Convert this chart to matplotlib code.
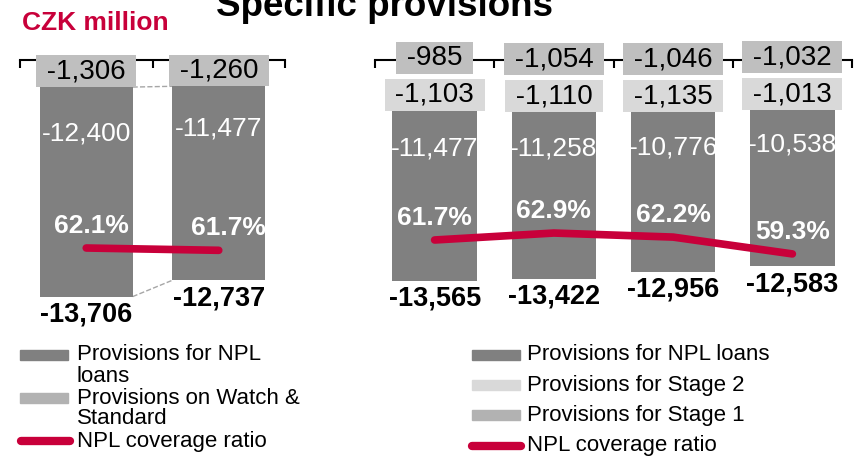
import numpy as np
import matplotlib.pyplot as plt
from matplotlib.patches import Rectangle
from matplotlib.lines import Line2D

plt.rcParams['font.family'] = ['Liberation Sans', 'DejaVu Sans']

# left panel: two periods
left_npl = [-12400, -11477]
left_watch = [-1306, -1260]
left_total = [-13706, -12737]
left_cov = [62.1, 61.7]

# right panel: four quarters
right_npl = [-11477, -11258, -10776, -10538]
right_stage2 = [-1103, -1110, -1135, -1013]
right_stage1 = [-985, -1054, -1046, -1032]
right_total = [-13565, -13422, -12956, -12583]
right_cov = [61.7, 62.9, 62.2, 59.3]

DARK = '#808080'
STAGE1 = '#bfbfbf'
STAGE2 = '#d9d9d9'
RED = '#c8003a'

W, H = 863, 459
fig = plt.figure(figsize=(W / 100, H / 100), dpi=100)


def fx(px):
    return px / W


def fy(py):
    return 1 - py / H


def fmt(v):
    return f"{v:,.0f}"


def setup_axis(ax, n):
    ax.set_xlim(-0.5, n - 0.5)
    for s in ['left', 'right', 'bottom']:
        ax.spines[s].set_visible(False)
    ax.spines['top'].set_linewidth(1.5)
    ax.set_xticks(np.arange(n + 1) - 0.5)
    ax.set_yticks([])
    ax.tick_params(axis='x', top=True, bottom=False, direction='in', length=6,
                   width=1.5, labeltop=False, labelbottom=False)


def box_label(ax, x, y, text, color, dy):
    ax.annotate(f" {text} ", (x, y), xytext=(0, dy), textcoords='offset pixels',
                ha='center', va='bottom', fontsize=20, color='black',
                bbox=dict(boxstyle='square,pad=0.1', fc=color, ec='none'),
                annotation_clip=False)


def panel(rect, ylim, cov_lim, npl, smalls, total, cov, width, pct_dx):
    # smalls: list of (values, colour), stacked from zero downwards
    ax = fig.add_axes(rect)
    n = len(npl)
    x = np.arange(n)
    setup_axis(ax, n)
    ax.set_ylim(*ylim)

    bottom = np.zeros(n)
    for vals, col in smalls:
        ax.bar(x, vals, width, bottom=bottom, color=col, zorder=2)
        bottom = bottom + np.array(vals)
    npl_top = bottom.copy()
    ax.bar(x, npl, width, bottom=npl_top, color=DARK, zorder=2)

    # labels of small segments stacked above NPL top
    for k, (vals, col) in enumerate(reversed(smalls)):
        for i in range(n):
            box_label(ax, x[i], npl_top[i], fmt(vals[i]), col, 3 + 37 * k)

    for i in range(n):
        ax.text(x[i], npl_top[i] + 0.22 * npl[i], fmt(npl[i]), ha='center',
                va='center', color='white', fontsize=19, zorder=3)
        ax.annotate(fmt(total[i]), (x[i], total[i]), xytext=(0, -5),
                    textcoords='offset pixels', ha='center', va='top',
                    fontsize=19.5, fontweight='bold', annotation_clip=False)

    ax2 = ax.twinx()
    ax2.set_ylim(*cov_lim)
    ax2.set_axis_off()
    ax2.plot(x, cov, color=RED, lw=5.5, solid_capstyle='round')
    for i in range(n):
        ax2.annotate(f"{cov[i]:.1f}%", (x[i], cov[i]), xytext=(pct_dx[i], 22),
                     textcoords='offset pixels', ha='center', va='center',
                     color='white', fontsize=19, fontweight='bold')
    return ax


ax_l = panel([fx(20), fy(302), fx(265), 242 / H], (-14024, 296), (52.79, 94.51),
             left_npl, [(left_watch, STAGE1)], left_total, left_cov, 0.70,
             [5, 10])

# dashed series lines between the two left bars
w = 0.70
ax_l.plot([w / 2, 1 - w / 2], [left_watch[0], left_watch[1]], ls='--',
          color='#a6a6a6', lw=1, zorder=1)
ax_l.plot([w / 2, 1 - w / 2], [left_total[0], left_total[1]], ls='--',
          color='#a6a6a6', lw=1, zorder=1)

panel([fx(375), fy(302), fx(477), 242 / H], (-15000, 1351), (51.01, 92.73),
      right_npl, [(right_stage1, STAGE1), (right_stage2, STAGE2)],
      right_total, right_cov, 0.71, [0, 0, 0, 0])

fig.text(fx(384), fy(16), "Specific provisions", ha='center', va='baseline',
         fontsize=26.5, fontweight='bold')
fig.text(fx(22), fy(30), "CZK million", ha='left', va='baseline',
         fontsize=19, fontweight='bold', color=RED)


def legend_patch(x0, x1, yc, color):
    fig.add_artist(Rectangle((fx(x0), fy(yc + 5)), fx(x1 - x0), 10 / H,
                             transform=fig.transFigure, color=color))


def legend_line(x0, x1, yc):
    fig.add_artist(Line2D([fx(x0), fx(x1)], [fy(yc), fy(yc)], color=RED, lw=6,
                          solid_capstyle='round', transform=fig.transFigure))


def legend_text(x0, yc, text):
    fig.text(fx(x0), fy(yc), text, ha='left', va='center', fontsize=16)


# left legend
legend_patch(20, 68, 355, DARK)
legend_text(77, 355, "Provisions for NPL")
legend_text(77, 376, "loans")
legend_patch(20, 68, 398, '#b2b2b2')
legend_text(77, 398, "Provisions on Watch &")
legend_text(77, 419, "Standard")
legend_line(21, 70, 441)
legend_text(77, 441, "NPL coverage ratio")

# right legend
legend_patch(472, 520, 355, DARK)
legend_text(527, 355, "Provisions for NPL loans")
legend_patch(472, 520, 385, STAGE2)
legend_text(527, 385, "Provisions for Stage 2")
legend_patch(472, 520, 415, '#b2b2b2')
legend_text(527, 415, "Provisions for Stage 1")
legend_line(472, 521, 446)
legend_text(527, 446, "NPL coverage ratio")

fig.savefig("out.png", dpi=100)
